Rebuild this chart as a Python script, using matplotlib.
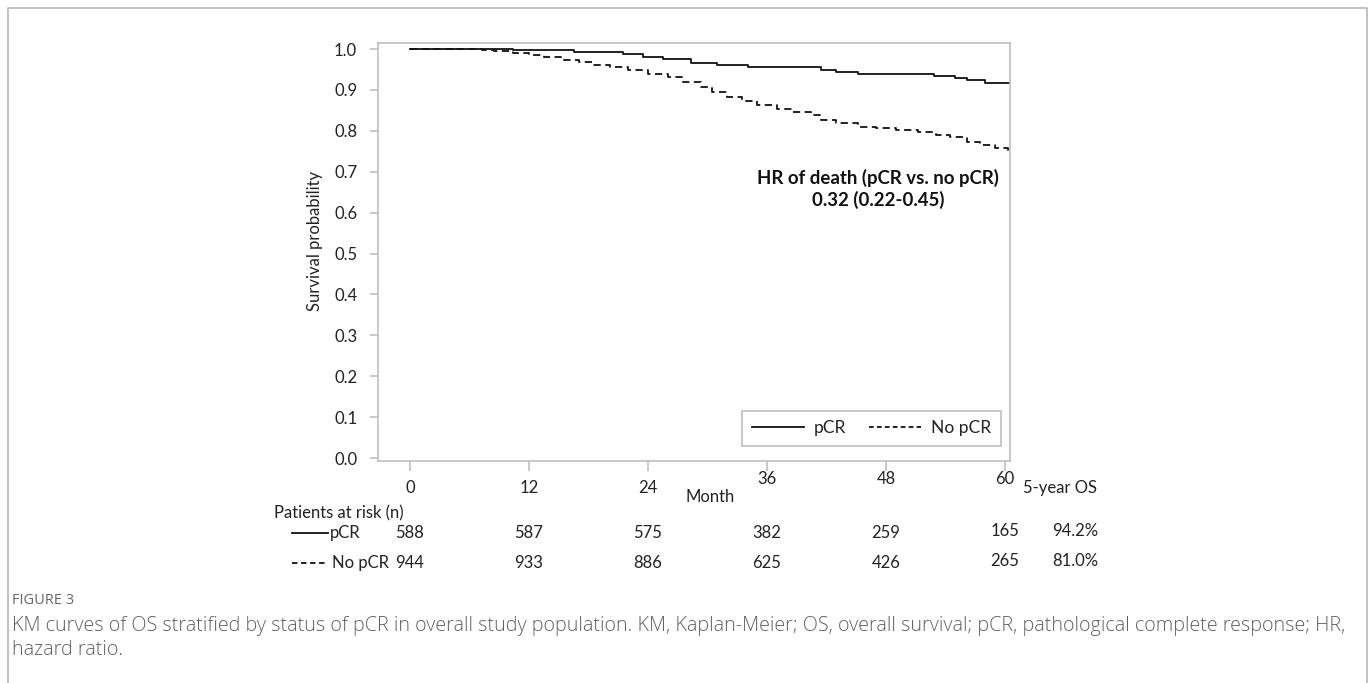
## Curvas KM de supervivencia global segun pCR, con tabla de pacientes en riesgo

import matplotlib.pyplot as plt
from matplotlib.lines import Line2D
from matplotlib.transforms import blended_transform_factory

# datos
months = [0, 12, 24, 36, 48, 60]
yticks = [0.0, 0.1, 0.2, 0.3, 0.4, 0.5, 0.6, 0.7, 0.8, 0.9, 1.0]

pcr_t = [0, 10.4, 16.5, 21.5, 23.5, 25.5, 28.3, 31.0, 34.1, 41.4, 43.0, 45.2,
         52.8, 55.0, 56.2, 58.0, 60.5]
pcr_s = [1.0, 0.997, 0.993, 0.988, 0.980, 0.976, 0.967, 0.961, 0.955, 0.949,
         0.944, 0.939, 0.934, 0.929, 0.924, 0.918, 0.918]

nopcr_t = [0, 7.3, 8.5, 10.4, 12.0, 13.5, 15.2, 17.0, 18.5, 20.2, 22.0, 24.0,
           26.0, 27.5, 29.3, 30.5, 32.0, 33.5, 35.0, 37.0, 38.5, 40.4, 41.4,
           43.0, 45.2, 47.0, 49.0, 51.2, 53.0, 54.5, 56.2, 57.5, 59.0, 60.3]
nopcr_s = [1.0, 0.997, 0.994, 0.990, 0.986, 0.980, 0.973, 0.968, 0.962, 0.957,
           0.948, 0.940, 0.931, 0.920, 0.908, 0.896, 0.882, 0.872, 0.862, 0.853,
           0.845, 0.839, 0.826, 0.820, 0.810, 0.806, 0.802, 0.798, 0.790, 0.784,
           0.773, 0.765, 0.757, 0.750]

risk_pcr = [588, 587, 575, 382, 259, 165]
risk_nopcr = [944, 933, 886, 625, 426, 265]
os5 = ['94.2%', '81.0%']

hr_lines = ['HR of death (pCR vs. no pCR)', '0.32 (0.22-0.45)']
caption_lines = ['KM curves of OS stratified by status of pCR in overall study population. '
                 'KM, Kaplan-Meier; OS, overall survival; pCR, pathological complete response; HR,',
                 'hazard ratio.']

plt.rcParams['font.family'] = ['Lato', 'DejaVu Sans']

W, H = 1372, 683
GRIS = '#bfbfbf'
NEGRO = '#111111'
TXT = '#222222'
FS = 12
DASH_CURVA = (0, (4, 2.5))


def fx(px):
    return px / W


def fy(py):
    return 1 - py / H


fig = plt.figure(figsize=(W / 100, H / 100), dpi=100)

# marco exterior
fig.add_artist(Line2D([fx(8), fx(8), fx(1367), fx(1367)], [0, fy(8), fy(8), 0],
                      color='#b8b8b8', lw=1.2, transform=fig.transFigure))

ax = fig.add_axes([fx(378), fy(461), fx(1010) - fx(378), fy(43) - fy(461)])
ax.step(pcr_t, pcr_s, where='post', color=NEGRO, lw=1.3)
ax.step(nopcr_t, nopcr_s, where='post', color=NEGRO, lw=1.3, linestyle=DASH_CURVA)

ax.set_xlim(-3.23, 60.5)
ax.set_ylim(-0.0073, 1.0147)
ax.set_xticks(months)
ax.set_xticklabels([])
ax.set_yticks(yticks)
ax.set_yticklabels(['%.1f' % v for v in yticks])
ax.tick_params(axis='x', length=7, color=GRIS, width=1.2)
ax.tick_params(axis='y', length=6, color=GRIS, width=1.2, pad=9,
               labelsize=FS, labelcolor=TXT)
for sp in ax.spines.values():
    sp.set_color(GRIS)
    sp.set_linewidth(1.2)

ax.set_ylabel('Survival probability', fontsize=FS, color=TXT)
ax.yaxis.set_label_coords(-0.087, 0.526)

ax.text(0.791, (461 - 178) / 418, hr_lines[0], transform=ax.transAxes,
        ha='center', va='center', fontsize=13.4, fontweight='bold', color=NEGRO)
ax.text(0.791, (461 - 200) / 418, hr_lines[1], transform=ax.transAxes,
        ha='center', va='center', fontsize=13.4, fontweight='bold', color=NEGRO)

handles = [Line2D([], [], color=NEGRO, lw=1.3),
           Line2D([], [], color=NEGRO, lw=1.3, linestyle=(0, (2.6, 1.8)))]
leg = ax.legend(handles, ['pCR', 'No pCR'], loc='lower right',
                bbox_to_anchor=(0.986, 0.036), ncol=2, fancybox=False,
                edgecolor=GRIS, framealpha=1, fontsize=12.5, handlelength=3.0,
                handletextpad=0.6, columnspacing=1.3, borderaxespad=0,
                borderpad=0.55)
leg.get_frame().set_linewidth(1.2)
for t in leg.get_texts():
    t.set_color(TXT)

# etiquetas del eje x y tabla de riesgo
tr = blended_transform_factory(ax.transData, fig.transFigure)
for i, m in enumerate(months):
    ypx = 488 if m < 36 else 479
    ax.text(m, fy(ypx), str(m), transform=tr, ha='center', va='center',
            fontsize=FS, color=TXT)
    ax.text(m, fy(533 if m < 60 else 531), str(risk_pcr[i]), transform=tr,
            ha='center', va='center', fontsize=FS, color=TXT)
    ax.text(m, fy(563 if m < 60 else 561), str(risk_nopcr[i]), transform=tr,
            ha='center', va='center', fontsize=FS, color=TXT)

fig.text(fx(710), fy(497), 'Month', ha='center', va='center', fontsize=FS, color=TXT)
fig.text(fx(1060), fy(488), '5-year OS', ha='center', va='center', fontsize=FS, color=TXT)
fig.text(fx(1075), fy(531), os5[0], ha='center', va='center', fontsize=FS, color=TXT)
fig.text(fx(1075), fy(561), os5[1], ha='center', va='center', fontsize=FS, color=TXT)
fig.text(fx(274), fy(513), 'Patients at risk (n)', ha='left', va='center',
         fontsize=FS, color=TXT)

fig.add_artist(Line2D([fx(292), fx(328)], [fy(533), fy(533)], color=NEGRO,
                      lw=1.3, transform=fig.transFigure))
fig.text(fx(330), fy(533), 'pCR', ha='left', va='center', fontsize=FS, color=TXT)
fig.add_artist(Line2D([fx(292), fx(328)], [fy(563), fy(563)], color=NEGRO,
                      lw=1.3, linestyle=(0, (3, 2)), transform=fig.transFigure))
fig.text(fx(332), fy(563), 'No pCR', ha='left', va='center', fontsize=FS, color=TXT)

# pie de figura
fig.text(fx(12), fy(601), 'FIGURE 3', ha='left', va='center', fontsize=10.5,
         color='#666666', family=['Open Sans', 'DejaVu Sans'])
fig.text(fx(12), fy(626), caption_lines[0], ha='left', va='center', fontsize=14.2,
         color='#606060', family=['Open Sans', 'DejaVu Sans'], fontweight='light')
fig.text(fx(12), fy(650), caption_lines[1], ha='left', va='center', fontsize=14.2,
         color='#606060', family=['Open Sans', 'DejaVu Sans'], fontweight='light')

plt.savefig('out.png', dpi=100)
plt.close()
